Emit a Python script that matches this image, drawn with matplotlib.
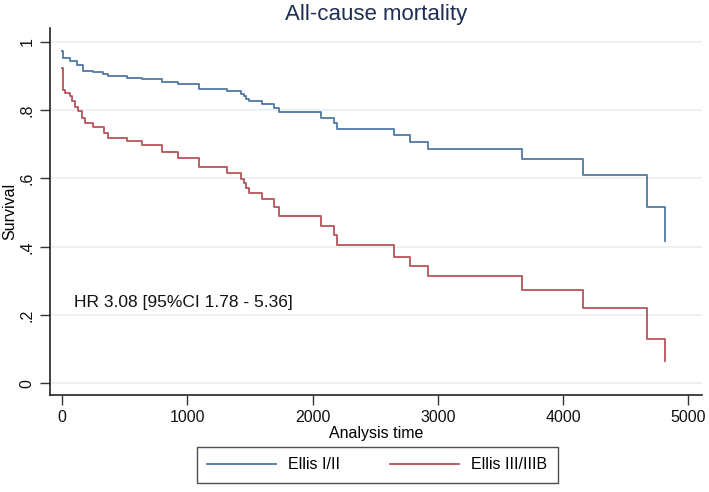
import matplotlib.pyplot as plt

plt.rcParams['font.family'] = ['Liberation Sans', 'DejaVu Sans']

# Kaplan-Meier steps (time, survival after the step)
t_blue = [0, 5, 64, 117, 170, 250, 330, 370, 515, 635, 795, 922, 1090, 1317,
          1432, 1450, 1472, 1490, 1597, 1690, 1730, 2064, 2170, 2197,
          2648, 2781, 2924, 3668, 4159, 4667, 4810]
s_blue = [0.973, 0.951, 0.944, 0.932, 0.915, 0.910, 0.905, 0.900, 0.895, 0.891,
          0.883, 0.875, 0.863, 0.856, 0.848, 0.840, 0.832, 0.826, 0.819, 0.806,
          0.794, 0.777, 0.762, 0.744, 0.726, 0.706, 0.687, 0.658, 0.611, 0.517, 0.417]

t_red = [0, 11, 24, 64, 77, 104, 130, 157, 183, 250, 332, 370, 515, 635, 795,
         922, 1090, 1317, 1432, 1450, 1472, 1490, 1597, 1690, 1730, 2064, 2170,
         2197, 2648, 2781, 2924, 3668, 4159, 4667, 4810]
s_red = [0.922, 0.859, 0.849, 0.840, 0.827, 0.810, 0.796, 0.776, 0.762, 0.749,
         0.733, 0.718, 0.710, 0.699, 0.676, 0.661, 0.634, 0.616, 0.598, 0.588,
         0.573, 0.556, 0.539, 0.515, 0.491, 0.462, 0.433, 0.404, 0.371, 0.344,
         0.315, 0.274, 0.220, 0.130, 0.067]

labels = ['Ellis I/II', 'Ellis III/IIIB']
colors = ['#4f77a3', '#b5545a']

yticks = [0, 0.2, 0.4, 0.6, 0.8, 1]
ytick_labels = ['0', '.2', '.4', '.6', '.8', '1']
xticks = [0, 1000, 2000, 3000, 4000, 5000]

fig = plt.figure(figsize=(7.09, 4.92), dpi=100)
ax = fig.add_axes([0.0705, 0.197, 0.920, 0.746])

for y in yticks:
    ax.axhline(y, color='#e9f0f1', lw=1.2, zorder=0)

ax.step(t_blue, s_blue, where='post', color=colors[0], lw=1.3, label=labels[0])
ax.step(t_red, s_red, where='post', color=colors[1], lw=1.3, label=labels[1])

ax.set_xlim(-96, 5110)
ax.set_ylim(-0.034, 1.04)
ax.set_xticks(xticks)
ax.set_yticks(yticks)
ax.set_yticklabels(ytick_labels, rotation=90, va='center')
ax.tick_params(axis='both', labelsize=11.5, length=7, width=1, color='#333333',
               labelcolor='#111111')
ax.tick_params(axis='y', pad=4)

for side in ['top', 'right']:
    ax.spines[side].set_visible(False)
for side in ['left', 'bottom']:
    ax.spines[side].set_color('#222222')
    ax.spines[side].set_linewidth(1.2)

ax.set_xlabel('Analysis time', fontsize=11.5, labelpad=1)
ax.set_ylabel('Survival', fontsize=11.5, labelpad=2)
ax.set_title('All-cause mortality', fontsize=16, color='#1e2d53', pad=6)

ax.text(96, 0.237, 'HR 3.08 [95%CI 1.78 - 5.36]', fontsize=12.5, va='center',
        color='#111111')

leg = fig.legend(loc='center', bbox_to_anchor=(0.532, 0.055), ncol=2,
                 fontsize=11.5, frameon=True, fancybox=False, handlelength=4.3,
                 handletextpad=0.8, columnspacing=3.1, edgecolor='#222222',
                 borderpad=0.65, borderaxespad=0)
leg.get_frame().set_linewidth(1.0)

fig.savefig('out.png', dpi=100)
